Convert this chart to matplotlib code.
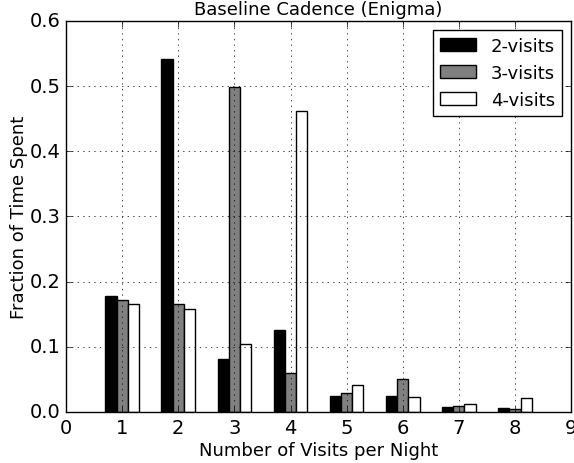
import numpy as np
import matplotlib
matplotlib.use('Agg')
import matplotlib.pyplot as plt

plt.style.use('classic')

nights = [1, 2, 3, 4, 5, 6, 7, 8]
two_visits = [0.178, 0.541, 0.082, 0.125, 0.024, 0.025, 0.0077, 0.0065]
three_visits = [0.171, 0.165, 0.498, 0.060, 0.029, 0.050, 0.009, 0.0045]
four_visits = [0.165, 0.158, 0.105, 0.461, 0.042, 0.023, 0.0125, 0.022]

x = np.array(nights)
w = 0.2

fig = plt.figure(figsize=(5.74, 4.64), dpi=100)
ax = fig.add_axes([0.115, 0.11, 0.88, 0.843])
ax.bar(x - w, two_visits, w, align='center', color='k', edgecolor='k', label='2-visits')
ax.bar(x, three_visits, w, align='center', color='0.5', edgecolor='k', label='3-visits')
ax.bar(x + w, four_visits, w, align='center', color='w', edgecolor='k', label='4-visits')

ax.set_xlim(0, 9)
ax.set_ylim(0, 0.6)
ax.set_xticks(range(10))
ax.set_yticks(np.arange(0, 0.61, 0.1))
ax.tick_params(labelsize=14)
ax.grid(True)
ax.set_xlabel('Number of Visits per Night', fontsize=13, labelpad=3)
ax.set_ylabel('Fraction of Time Spent', fontsize=13, labelpad=1)
ax.set_title('Baseline Cadence (Enigma)', fontsize=13)
ax.legend(loc='upper right', fontsize=13)

fig.savefig('out.png', dpi=100)
